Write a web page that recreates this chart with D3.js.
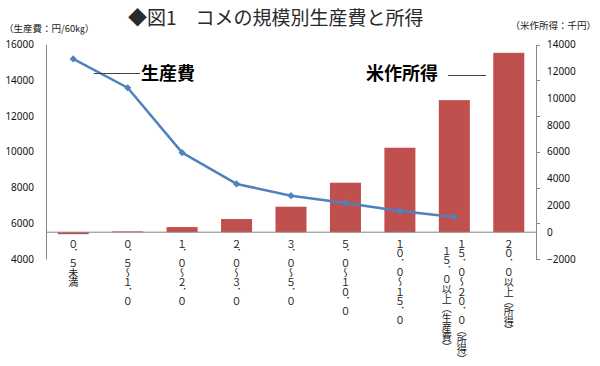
<!DOCTYPE html>
<html>
<head>
<meta charset="utf-8">
<script src="https://cdn.jsdelivr.net/npm/d3@7/dist/d3.min.js"></script>
<style>
body { margin: 0; background: #fff; }
svg { display: block; }
</style>
</head>
<body>
<div id="chart"></div>
<script>
// categories: farm size (ha); the 8th one has two label columns (right column first)
var categories = ['c1', 'c2', 'c3', 'c4', 'c5', 'c6', 'c7', 'c8', 'c9']
var categoryLabels = [
	['０．５未満'],
	['０．５～１．０'],
	['１．０～２．０'],
	['２．０～３．０'],
	['３．０～５．０'],
	['５．０～１０．０'],
	['１０．０～１５．０'],
	['１５．０～２０．０（所得）', '１５．０以上（生産費）'],
	['２０．０以上（所得）']
]
// production cost, yen / 60kg (left axis), no value for the last category
var costValues = [15190, 13580, 9950, 8200, 7540, 7130, 6690, 6350]
// rice farming income, thousand yen (right axis)
var incomeValues = [-150, 60, 380, 980, 1900, 3690, 6300, 9850, 13380]
var leftTicks = [4000, 6000, 8000, 10000, 12000, 14000, 16000]
var rightTicks = [-2000, 0, 2000, 4000, 6000, 8000, 10000, 12000, 14000]

var width = 600,
	height = 366,
	plot = {top: 44.5, bottom: 259, left: 46, right: 536},
	axisColor = '#868686',
	svg, x, yLeft, yRight

svg = d3.select('#chart').append('svg')
	.attr('width', width)
	.attr('height', height)
	.style('background', '#fff')

x = d3.scaleBand()
	.domain(categories)
	.range([plot.left, plot.right])
	.paddingInner(0.43)
	.paddingOuter(0.215)

yLeft = d3.scaleLinear()
	.domain([4000, 16000])
	.range([plot.bottom, plot.top])

yRight = d3.scaleLinear()
	.domain([-2000, 14000])
	.range([plot.bottom, plot.top])

// title
svg.append('text')
	.attr('x', 128)
	.attr('y', 25)
	.attr('font-family', '"Noto Sans CJK JP", sans-serif')
	.attr('font-size', 19)
	.attr('fill', '#2a2a2a')
	.text('◆図1　コメの規模別生産費と所得')

// axis titles
svg.append('text')
	.attr('x', 4)
	.attr('y', 32)
	.attr('font-family', '"Noto Sans CJK JP", sans-serif')
	.attr('font-size', 9.5)
	.attr('fill', '#222')
	.text('（生産費：円/60㎏）')

svg.append('text')
	.attr('x', 596)
	.attr('y', 29)
	.attr('text-anchor', 'end')
	.attr('font-family', '"Noto Sans CJK JP", sans-serif')
	.attr('font-size', 9.5)
	.attr('fill', '#222')
	.text('（米作所得：千円）')

// bars
svg.append('g')
	.selectAll('rect')
	.data(incomeValues)
	.join('rect')
	.attr('x', function(d, i) { return x(categories[i]) })
	.attr('width', x.bandwidth())
	.attr('y', function(d) { return yRight(Math.max(0, d)) })
	.attr('height', function(d) { return Math.abs(yRight(d) - yRight(0)) })
	.attr('fill', '#c0504d')

// axes
svg.append('g')
	.attr('transform', 'translate(' + plot.left + ',0)')
	.call(d3.axisLeft(yLeft).tickValues(leftTicks).tickSize(0).tickPadding(12).tickFormat(d3.format('d')))

svg.append('g')
	.attr('transform', 'translate(' + plot.right + ',0)')
	.call(d3.axisRight(yRight).tickValues(rightTicks).tickSize(0).tickPadding(11).tickFormat(d3.format('d')))

// right axis tick marks follow the left axis spacing in the original
svg.append('g')
	.selectAll('line')
	.data(leftTicks)
	.join('line')
	.attr('x1', plot.right)
	.attr('x2', plot.right + 4)
	.attr('y1', function(d) { return Math.round(yLeft(d)) + 0.5 })
	.attr('y2', function(d) { return Math.round(yLeft(d)) + 0.5 })
	.attr('stroke', axisColor)

svg.selectAll('.domain')
	.attr('stroke', axisColor)

svg.selectAll('.tick text')
	.attr('font-family', '"Noto Sans", sans-serif')
	.attr('font-size', 10)
	.attr('fill', '#111')

svg.append('line')
	.attr('x1', plot.left)
	.attr('x2', plot.right)
	.attr('y1', yRight(0))
	.attr('y2', yRight(0))
	.attr('stroke', axisColor)

// vertical category labels (tategaki)
var labelGroups = svg.append('g')
	.attr('font-family', '"Noto Sans CJK JP", sans-serif')
	.attr('font-size', 10)
	.attr('fill', '#222')
	.selectAll('g')
	.data(categoryLabels)
	.join('g')

labelGroups.each(function(cols, i) {
	var g = d3.select(this),
		cx = x(categories[i]) + x.bandwidth() / 2
	cols.forEach(function(str, c) {
		g.append('text')
			.attr('x', cols.length > 1 ? cx + (c === 0 ? 7.5 : -7.5) : cx)
			.attr('y', 239 + (c === 0 ? 0 : 7))
			.style('writing-mode', 'vertical-rl')
			.style('letter-spacing', '-0.4px')
			.text(str)
	})
})

// production cost line
var line = d3.line()
	.x(function(d, i) { return x(categories[i]) + x.bandwidth() / 2 })
	.y(function(d) { return yLeft(d) })

svg.append('path')
	.datum(costValues)
	.attr('d', line)
	.attr('fill', 'none')
	.attr('stroke', '#4f81bd')
	.attr('stroke-width', 2.5)
	.attr('stroke-linejoin', 'round')

svg.append('g')
	.selectAll('path')
	.data(costValues)
	.join('path')
	.attr('d', d3.symbol(d3.symbolSquare, 26))
	.attr('transform', function(d, i) {
		return 'translate(' + (x(categories[i]) + x.bandwidth() / 2) + ',' + yLeft(d) + ') rotate(45)'
	})
	.attr('fill', '#4f81bd')

// series annotations with leader lines
svg.append('line')
	.attr('x1', 94).attr('x2', 140)
	.attr('y1', 73.5).attr('y2', 73.5)
	.attr('stroke', '#444')

svg.append('text')
	.attr('x', 141)
	.attr('y', 80)
	.attr('font-family', '"Noto Sans CJK JP", sans-serif')
	.attr('font-size', 18)
	.attr('font-weight', 'bold')
	.attr('fill', '#000')
	.text('生産費')

svg.append('text')
	.attr('x', 366)
	.attr('y', 80)
	.attr('font-family', '"Noto Sans CJK JP", sans-serif')
	.attr('font-size', 18)
	.attr('font-weight', 'bold')
	.attr('fill', '#000')
	.text('米作所得')

svg.append('line')
	.attr('x1', 448).attr('x2', 486)
	.attr('y1', 75.5).attr('y2', 75.5)
	.attr('stroke', '#444')
</script>
</body>
</html>
